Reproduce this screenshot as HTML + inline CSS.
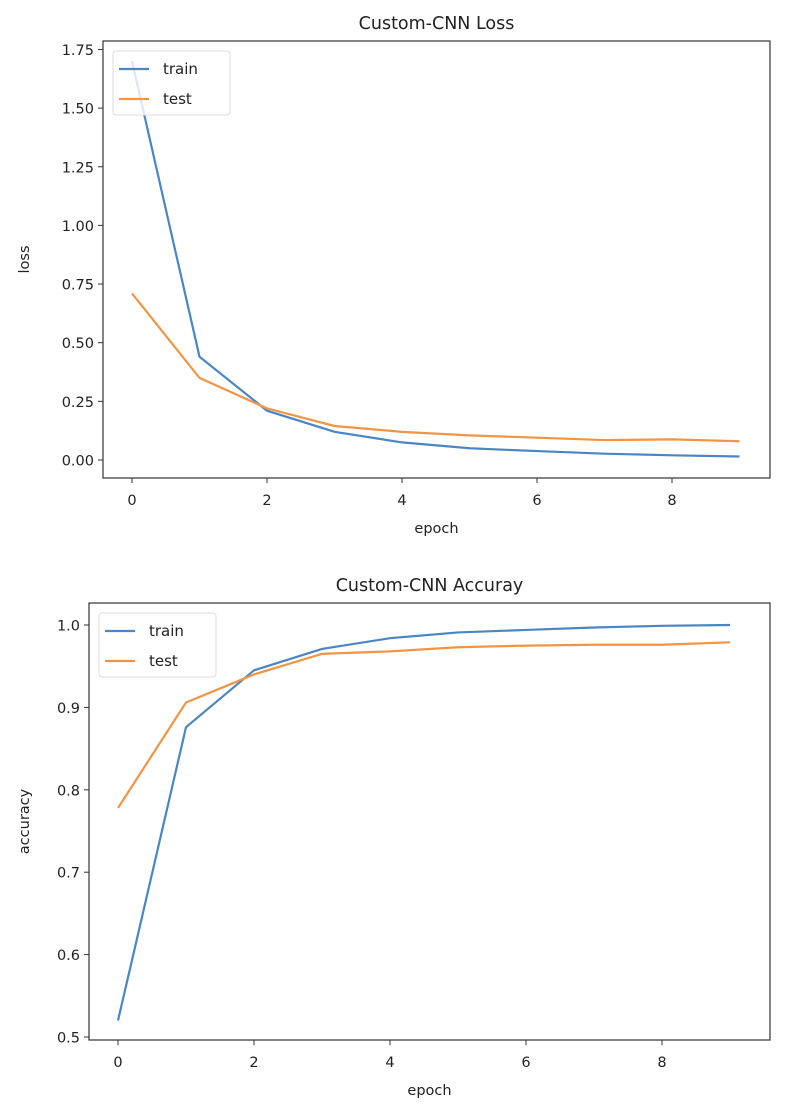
<!DOCTYPE html>
<html><head><meta charset="utf-8"><style>
body{margin:0;background:#fff;}
svg text{font-family:"DejaVu Sans","Liberation Sans",sans-serif;fill:#222;}
</style></head><body>
<svg id="svg" width="800" height="1110" xmlns="http://www.w3.org/2000/svg"></svg>
<script>
const epochs=[0,1,2,3,4,5,6,7,8,9];
const trainLoss=[1.70,0.44,0.21,0.12,0.075,0.05,0.038,0.027,0.02,0.015];
const testLoss=[0.71,0.35,0.22,0.145,0.12,0.105,0.095,0.085,0.088,0.08];
const trainAcc=[0.52,0.876,0.945,0.971,0.984,0.991,0.994,0.997,0.999,1.0];
const testAcc=[0.778,0.906,0.940,0.965,0.968,0.973,0.975,0.976,0.976,0.979];
const xTicks=[0,2,4,6,8];
const lossTicks=[0,0.25,0.5,0.75,1.0,1.25,1.5,1.75];
const lossTickLabels=["0.00","0.25","0.50","0.75","1.00","1.25","1.50","1.75"];
const accTicks=[0.5,0.6,0.7,0.8,0.9,1.0];
const accTickLabels=["0.5","0.6","0.7","0.8","0.9","1.0"];
const NS="http://www.w3.org/2000/svg";
const svg=document.getElementById('svg');
function mk(t,a,p){const e=document.createElementNS(NS,t);for(const k in a)e.setAttribute(k,a[k]);(p||svg).appendChild(e);return e;}
function chart(o){
  const g=mk('g',{});
  
  
  const X=v=>o.x0+(v-0)*o.xs, Y=v=>o.y0-(v-o.v0)*o.ys;
  const t=mk('text',{x:(o.L+o.R)/2,y:o.T-12,'text-anchor':'middle','font-size':17.5},g);t.textContent=o.title;
  
  o.yt.forEach((v,i)=>{const y=Y(v);mk('line',{x1:o.L-5,x2:o.L,y1:y,y2:y,stroke:'#333'},g);
    const tt=mk('text',{x:o.L-9,y:y+5.5,'text-anchor':'end','font-size':14.5},g);tt.textContent=o.ytl[i];
    });
  xTicks.forEach(v=>{const x=X(v);mk('line',{x1:x,x2:x,y1:o.B,y2:o.B+5,stroke:'#333'},g);
    const tt=mk('text',{x:x,y:o.B+27,'text-anchor':'middle','font-size':14.5},g);tt.textContent=v;
    });
  const xl=mk('text',{x:(o.L+o.R)/2,y:o.B+55,'text-anchor':'middle','font-size':14.5},g);xl.textContent='epoch';
  
  const yl=mk('text',{x:0,y:0,'text-anchor':'middle','font-size':14.5,transform:`translate(${o.ylx},${(o.T+o.B)/2}) rotate(-90)`},g);yl.textContent=o.ylabel;
  
  [[o.s1,'#4a86c5','train-line'],[o.s2,'#f39442','test-line']].forEach(([s,c,n])=>{
    const p=mk('polyline',{points:s.map((v,i)=>X(epochs[i])+','+Y(v)).join(' '),fill:'none',stroke:c,'stroke-width':2.2},g);
    });
  mk('rect',{x:o.L,y:o.T,width:o.R-o.L,height:o.B-o.T,fill:'none',stroke:'#333','stroke-width':1.2},g);
  const lg=mk('g',{},g);
  mk('rect',{x:o.L+10,y:o.T+10,width:117,height:64,rx:3,fill:'rgba(255,255,255,0.8)',stroke:'#ddd'},lg);
  [['train','#4a86c5'],['test','#f39442']].forEach(([n,c],i)=>{const y=o.T+28+i*30;
    mk('line',{x1:o.L+16,x2:o.L+46,y1:y,y2:y,stroke:c,'stroke-width':2.2},lg);
    const tt=mk('text',{x:o.L+60,y:y+5,'font-size':15},lg);tt.textContent=n;
    });
}
chart({name:'loss-chart',title:'Custom-CNN Loss',L:103,R:770,T:41,B:478,x0:132,xs:67.5,y0:460,v0:0,ys:234.6,yt:lossTicks,ytl:lossTickLabels,ylabel:'loss',ylx:29,s1:trainLoss,s2:testLoss});
chart({name:'accuracy-chart',title:'Custom-CNN Accuray',L:89,R:770,T:603,B:1040,x0:118,xs:68,y0:1037,v0:0.5,ys:824,yt:accTicks,ytl:accTickLabels,ylabel:'accuracy',ylx:29,s1:trainAcc,s2:testAcc});
</script>
</body></html>
